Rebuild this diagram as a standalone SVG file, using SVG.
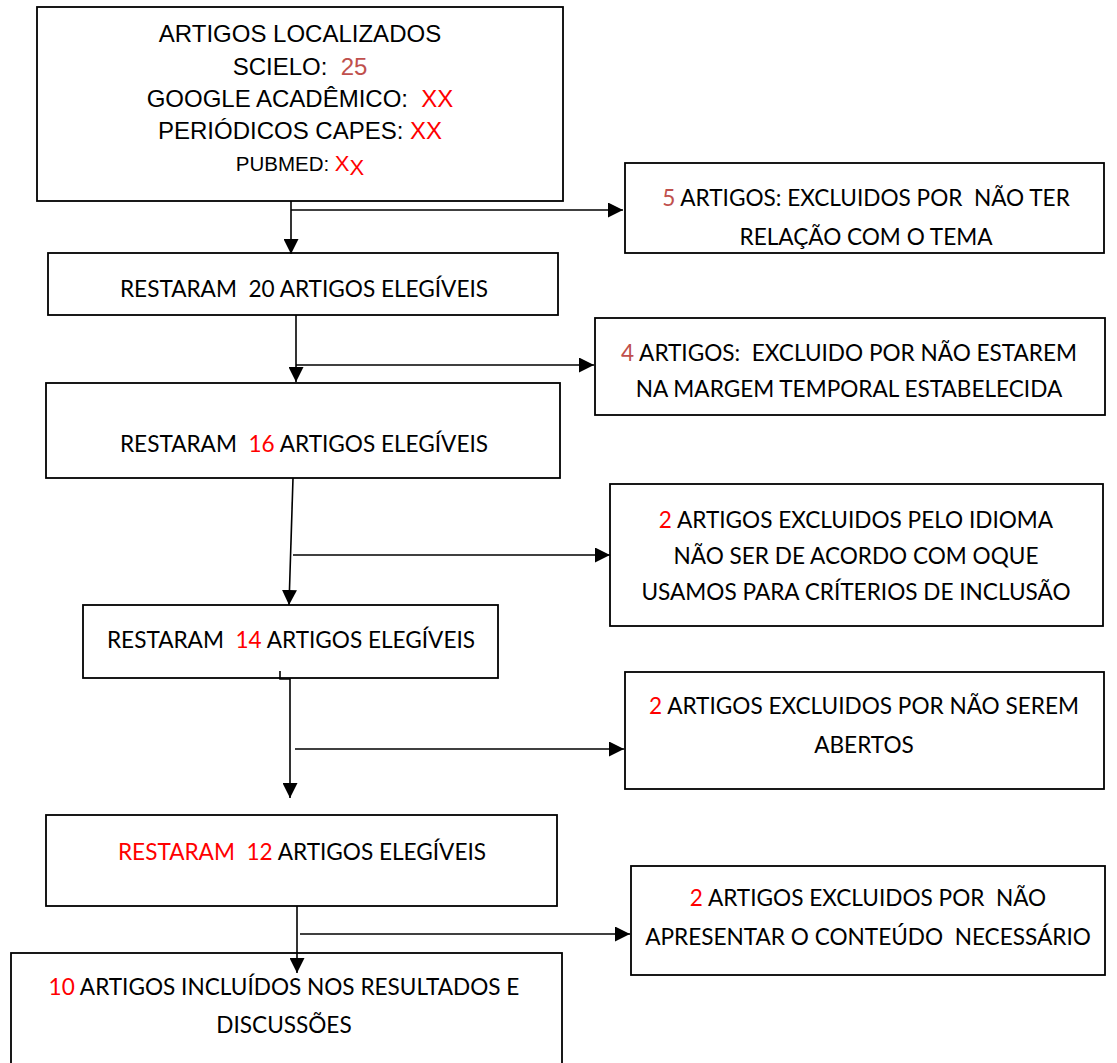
<svg xmlns="http://www.w3.org/2000/svg" width="1117" height="1063" viewBox="0 0 1117 1063">
<style>
.box{fill:#fff;stroke:#000;stroke-width:1.8}
.a{font-family:"Liberation Sans",Arial,sans-serif;font-size:24px;fill:#000;text-anchor:middle}
.c{font-family:Lato,"Open Sans",sans-serif;font-size:22.6px;fill:#000;text-anchor:middle;white-space:pre}
.r{fill:#ff0000}
.m{fill:#c0504d}
.ln{fill:none;stroke:#000;stroke-width:1.6}
</style>
<defs>
<marker id="ah" viewBox="0 0 10 10" refX="10" refY="5" markerUnits="userSpaceOnUse" markerWidth="15" markerHeight="15" orient="auto">
<path d="M0,0 L10,5 L0,10 z" fill="#000"/>
</marker>
</defs>
<rect width="1117" height="1063" fill="#fff"/>
<g id="n1">
<rect class="box" x="37" y="7" width="526" height="194"/>
<text class="a" x="300" y="42">ARTIGOS LOCALIZADOS</text>
<text class="a" x="300" y="75" style="white-space:pre">SCIELO:  <tspan class="m">25</tspan></text>
<text class="a" x="300" y="107" style="white-space:pre">GOOGLE ACADÊMICO:  <tspan class="r">XX</tspan></text>
<text class="a" x="300" y="139">PERIÓDICOS CAPES: <tspan class="r">XX</tspan></text>
<text class="a" x="300" y="171" style="font-size:20.5px">PUBMED: <tspan class="r" font-size="22">X</tspan><tspan class="r" font-size="22" dy="4">X</tspan></text>
</g>
<g id="n2">
<rect class="box" x="625" y="163" width="479" height="90"/>
<text class="c" x="866" y="206"><tspan class="m">5</tspan> ARTIGOS: EXCLUIDOS POR  NÃO TER</text>
<text class="c" x="866" y="245">RELAÇÃO COM O TEMA</text>
</g>
<g id="n3">
<rect class="box" x="48" y="253" width="510" height="62"/>
<text class="c" x="304" y="297">RESTARAM  20 ARTIGOS ELEGÍVEIS</text>
</g>
<g id="n4">
<rect class="box" x="595" y="318" width="510" height="97"/>
<text class="c" x="849" y="361"><tspan class="m">4</tspan> ARTIGOS:  EXCLUIDO POR NÃO ESTAREM</text>
<text class="c" x="849" y="397">NA MARGEM TEMPORAL ESTABELECIDA</text>
</g>
<g id="n5">
<rect class="box" x="46" y="383" width="514" height="95"/>
<text class="c" x="304" y="452">RESTARAM  <tspan class="r">16</tspan> ARTIGOS ELEGÍVEIS</text>
</g>
<g id="n6">
<rect class="box" x="610" y="484" width="493" height="142"/>
<text class="c" x="856" y="528"><tspan class="r">2</tspan> ARTIGOS EXCLUIDOS PELO IDIOMA</text>
<text class="c" x="856" y="564">NÃO SER DE ACORDO COM OQUE</text>
<text class="c" x="856" y="600">USAMOS PARA CRÍTERIOS DE INCLUSÃO</text>
</g>
<g id="n7">
<rect class="box" x="83" y="605" width="415" height="73"/>
<text class="c" x="291" y="648">RESTARAM  <tspan class="r">14</tspan> ARTIGOS ELEGÍVEIS</text>
</g>
<g id="n8">
<rect class="box" x="625" y="672" width="479" height="117"/>
<text class="c" x="864" y="714"><tspan class="r">2</tspan> ARTIGOS EXCLUIDOS POR NÃO SEREM</text>
<text class="c" x="864" y="753">ABERTOS</text>
</g>
<g id="n9">
<rect class="box" x="46" y="815" width="511" height="91"/>
<text class="c" x="302" y="860"><tspan class="r">RESTARAM  12</tspan> ARTIGOS ELEGÍVEIS</text>
</g>
<g id="n10">
<rect class="box" x="631" y="866" width="474" height="109"/>
<text class="c" x="868" y="906"><tspan class="r">2</tspan> ARTIGOS EXCLUIDOS POR  NÃO</text>
<text class="c" x="868" y="945">APRESENTAR O CONTEÚDO  NECESSÁRIO</text>
</g>
<g id="n11">
<rect class="box" x="11" y="953" width="551" height="120"/>
<text class="c" x="284" y="995"><tspan class="r">10</tspan> ARTIGOS INCLUÍDOS NOS RESULTADOS E</text>
<text class="c" x="284" y="1033">DISCUSSÕES</text>
</g>
<g id="connectors">
<line class="ln" x1="291" y1="201" x2="291" y2="254" marker-end="url(#ah)"/>
<line class="ln" x1="291" y1="210" x2="623" y2="210" marker-end="url(#ah)"/>
<line class="ln" x1="296" y1="315" x2="296" y2="382" marker-end="url(#ah)"/>
<line class="ln" x1="296" y1="365" x2="594" y2="365" marker-end="url(#ah)"/>
<line class="ln" x1="293" y1="478" x2="289" y2="605" marker-end="url(#ah)"/>
<line class="ln" x1="293" y1="555" x2="610" y2="555" marker-end="url(#ah)"/>
<path class="ln" d="M280,671 V679 H290 V798" marker-end="url(#ah)"/>
<line class="ln" x1="295" y1="749" x2="624" y2="749" marker-end="url(#ah)"/>
<line class="ln" x1="297" y1="906" x2="297" y2="973" marker-end="url(#ah)"/>
<line class="ln" x1="300" y1="934" x2="630" y2="934" marker-end="url(#ah)"/>
</g>
</svg>
